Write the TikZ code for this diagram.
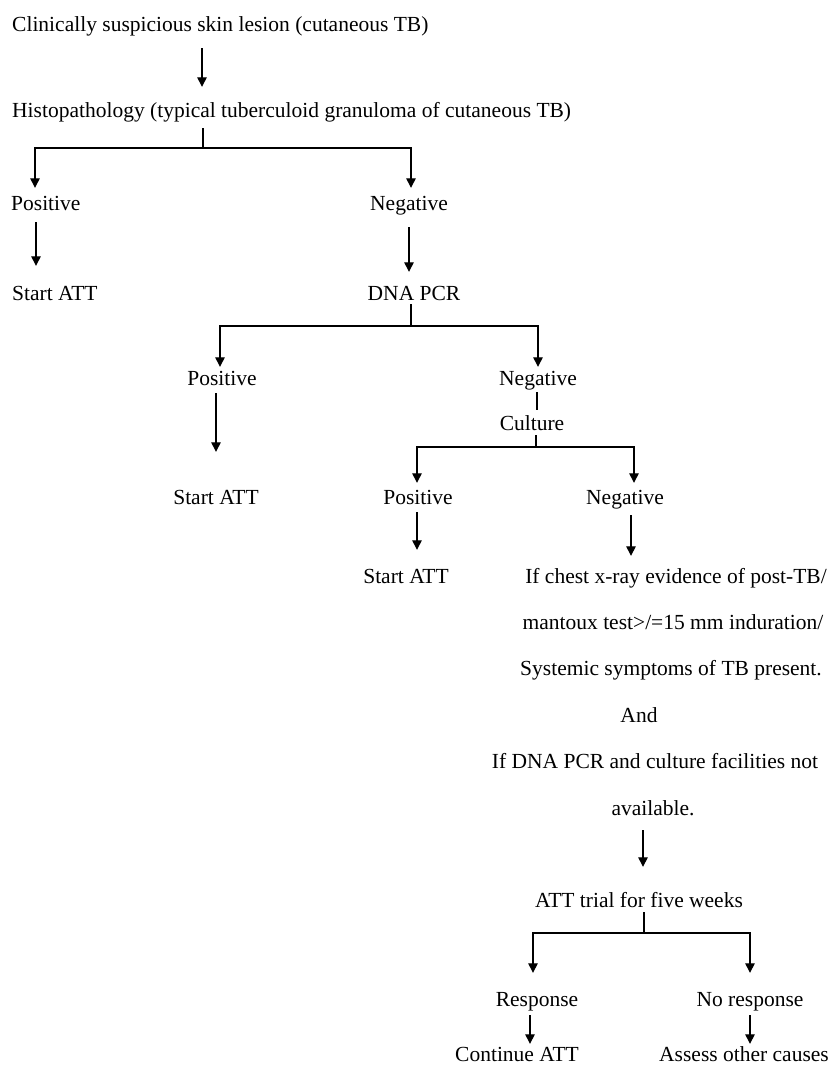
\documentclass[tikz,border=0pt]{standalone}
\usepackage{fontspec}
\setmainfont{Liberation Serif}
\usetikzlibrary{arrows.meta}

\begin{document}
\begin{tikzpicture}[x=1pt,y=-1pt,
    txt/.style={inner sep=0pt,text height=15.5pt,text depth=1.5pt,font=\fontsize{21.5}{25}\selectfont},
    arr/.style={-{Triangle[length=9.5pt,width=9.5pt]},line width=1.3pt},
    ln/.style={line width=1.3pt}]
  \useasboundingbox (0,0) rectangle (833,1065);
  % texts
  \node[txt,anchor=west] (Title) at (12,25) {Clinically suspicious skin lesion (cutaneous TB)};
  \node[txt,anchor=west] (Histo) at (12,110) {Histopathology (typical tuberculoid granuloma of cutaneous TB)};
  \node[txt,anchor=west] (PosA) at (11,203) {Positive};
  \node[txt] (NegA) at (409,203) {Negative};
  \node[txt,anchor=west] (StartA) at (12,293) {Start ATT};
  \node[txt] (Dna) at (414,293) {DNA PCR};
  \node[txt] (PosB) at (222,378) {Positive};
  \node[txt] (NegB) at (538,378) {Negative};
  \node[txt] (Cult) at (532,423) {Culture};
  \node[txt] (StartB) at (216,497) {Start ATT};
  \node[txt] (PosC) at (418,497) {Positive};
  \node[txt] (NegC) at (625,497) {Negative};
  \node[txt] (StartC) at (406,576) {Start ATT};
  \node[txt] (CondA) at (676,576) {If chest x-ray evidence of post-TB/};
  \node[txt] (CondB) at (673,622) {mantoux test>/=15 mm induration/};
  \node[txt] (CondC) at (671,668) {Systemic symptoms of TB present.};
  \node[txt] (CondD) at (639,715) {And};
  \node[txt] (CondE) at (655,761) {If DNA PCR and culture facilities not};
  \node[txt] (CondF) at (653,808) {available.};
  \node[txt] (Trial) at (639,900) {ATT trial for five weeks};
  \node[txt] (Resp) at (537,999) {Response};
  \node[txt] (NoResp) at (750,999) {No response};
  \node[txt] (Cont) at (517,1054) {Continue ATT};
  \node[txt] (Assess) at (744,1054) {Assess other causes};
  % fork points
  \coordinate (ForkA) at (203,148);
  \coordinate (ForkB) at (411,326);
  \coordinate (ForkC) at (536,447);
  \coordinate (ForkD) at (644,933);
  % connectors
  \draw[arr,shorten <=14.5pt,shorten >=14.5pt] ([xshift=190pt]Title.south west) -- ([xshift=190pt]Title.south west |- Histo.north);
  \draw[ln,shorten <=9.5pt] (Histo.south -| ForkA) -- (ForkA);
  \draw[arr,shorten >=6.5pt] (ForkA) -| ([xshift=24pt]PosA.north west);
  \draw[arr,shorten >=6.5pt] (ForkA) -| ([xshift=2pt]NegA.north);
  \draw[arr,shorten <=10.5pt,shorten >=18.5pt] ([xshift=25pt]PosA.south west) -- ([xshift=25pt]PosA.south west |- StartA.north);
  \draw[arr,shorten <=15.5pt,shorten >=12.5pt] (NegA.south) -- (NegA.south |- Dna.north);
  \draw[ln,shorten <=2.5pt] (Dna.south -| ForkB) -- (ForkB);
  \draw[arr,shorten >=2.5pt] (ForkB) -| ([xshift=-2pt]PosB.north);
  \draw[arr,shorten >=2.5pt] (ForkB) -| (NegB.north);
  \draw[arr,shorten <=6.5pt,shorten >=36.5pt] (StartB.north |- PosB.south) -- (StartB.north);
  \draw[ln,shorten <=5.5pt,shorten >=4.5pt] ([xshift=-1pt]NegB.south) -- ([xshift=-1pt]NegB.south |- Cult.north);
  \draw[ln,shorten <=3.5pt] (Cult.south -| ForkC) -- (ForkC);
  \draw[arr,shorten >=5.5pt] (ForkC) -| ([xshift=-1pt]PosC.north);
  \draw[arr,shorten >=5.5pt] (ForkC) -| ([xshift=9pt]NegC.north);
  \draw[arr,shorten <=6.5pt,shorten >=17.5pt] ([xshift=-1pt]PosC.south) -- ([xshift=-1pt]PosC.south |- StartC.north);
  \draw[arr,shorten <=9.5pt,shorten >=11.5pt] ([xshift=6pt]NegC.south) -- ([xshift=6pt]NegC.south |- CondA.north);
  \draw[arr,shorten <=13.5pt,shorten >=24.5pt] ([xshift=4pt]Trial.north |- CondF.south) -- ([xshift=4pt]Trial.north);
  \draw[ln,shorten <=3.5pt] (Trial.south -| ForkD) -- (ForkD);
  \draw[arr,shorten >=17.5pt] (ForkD) -| ([xshift=-4pt]Resp.north);
  \draw[arr,shorten >=17.5pt] (ForkD) -| (NoResp.north);
  \draw[arr,shorten <=7.5pt,shorten >=1.5pt] ([xshift=-7pt]Resp.south) -- ([xshift=-7pt]Resp.south |- Cont.north);
  \draw[arr,shorten <=7.5pt,shorten >=1.5pt] (NoResp.south) -- (NoResp.south |- Assess.north);
\end{tikzpicture}
\end{document}
